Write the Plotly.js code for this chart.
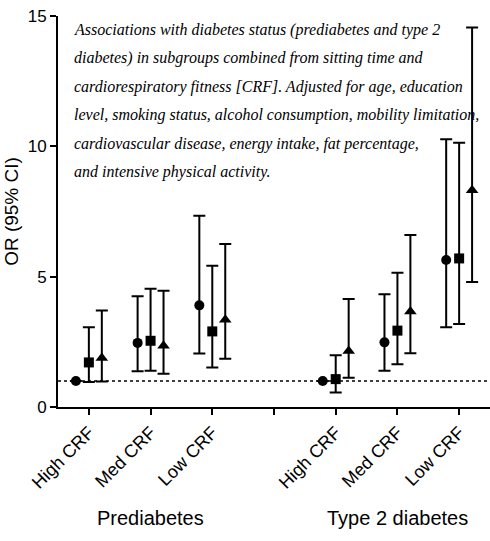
<!DOCTYPE html>
<html>
<head>
<meta charset="utf-8">
<script src="https://cdn.plot.ly/plotly-3.0.1.min.js"></script>
<style>html,body{margin:0;padding:0;background:#fff}#chart{width:490px;height:541px}</style>
</head>
<body>
<div id="chart"></div>
<script>
// ---- data ----
const categories = ['High CRF', 'Med CRF', 'Low CRF'];
const groups = ['Prediabetes', 'Type 2 diabetes'];
// order: Prediabetes High/Med/Low, Type 2 diabetes High/Med/Low
const circleOR = [1.00, 2.46, 3.90, 1.00, 2.48, 5.64];
const circleLo = [null, 1.37, 2.05, null, 1.39, 3.06];
const circleHi = [null, 4.25, 7.34, null, 4.33, 10.27];
const squareOR = [1.71, 2.54, 2.90, 1.07, 2.93, 5.70];
const squareLo = [0.96, 1.39, 1.52, 0.56, 1.64, 3.18];
const squareHi = [3.06, 4.54, 5.42, 1.99, 5.15, 10.14];
const triangleOR = [1.88, 2.35, 3.35, 2.15, 3.66, 8.32];
const triangleLo = [0.98, 1.28, 1.85, 1.12, 2.06, 4.80];
const triangleHi = [3.70, 4.46, 6.25, 4.14, 6.60, 14.56];
const referenceOR = 1;
const yTicks = [0, 5, 10, 15];
const noteLines = [
  'Associations with diabetes status (prediabetes and type 2',
  'diabetes) in subgroups combined from sitting time and',
  'cardiorespiratory fitness [CRF]. Adjusted for age, education',
  'level, smoking status, alcohol consumption, mobility limitation,',
  'cardiovascular disease, energy intake, fat percentage,',
  'and intensive physical activity.'
];

// ---- positions on the category axis ----
const nCat = categories.length;
const slotPos = [];
groups.forEach((g, gi) => categories.forEach((c, ci) => slotPos.push(gi * (nCat + 1) + ci)));
const tickVals = [], tickText = [];
groups.forEach((g, gi) => {
  categories.forEach((c, ci) => { tickVals.push(gi * (nCat + 1) + ci); tickText.push(c); });
  if (gi < groups.length - 1) { tickVals.push(gi * (nCat + 1) + nCat); tickText.push(''); }
});

function mk(name, or, lo, hi, offset, symbol, size) {
  return {
    type: 'scatter', mode: 'markers', name: name,
    x: slotPos.map(p => p + offset),
    y: or,
    marker: {symbol: symbol, size: size, color: '#000'},
    error_y: {
      type: 'data', symmetric: false,
      array: or.map((v, i) => hi[i] == null ? null : hi[i] - v),
      arrayminus: or.map((v, i) => lo[i] == null ? null : v - lo[i]),
      color: '#000', thickness: 2, width: 6
    },
    showlegend: false, hoverinfo: 'y'
  };
}

const traces = [
  mk('Circle', circleOR, circleLo, circleHi, -0.21, 'circle', 10),
  mk('Square', squareOR, squareLo, squareHi, 0, 'square', 10),
  mk('Triangle', triangleOR, triangleLo, triangleHi, 0.21, 'triangle-up', 11)
];

const plotTop = 16, plotBottom = 407, plotH = plotBottom - plotTop;
const annotations = noteLines.map((t, i) => ({
  text: '<i>' + t + '</i>',
  xref: 'paper', yref: 'paper', x: (72 - 58) / 432, xanchor: 'left',
  y: (plotBottom - (30 + i * 28.4)) / plotH, yanchor: 'middle',
  showarrow: false, font: {family: 'Liberation Serif', size: 16, color: '#000'}
}));
groups.forEach((g, gi) => annotations.push({
  text: g, xref: 'x', yref: 'paper',
  x: gi * (nCat + 1) + (nCat - 1) / 2, y: (plotBottom - 518) / plotH,
  xanchor: 'center', yanchor: 'middle', showarrow: false,
  font: {family: 'Liberation Sans', size: 20, color: '#000'}
}));

const layout = {
  width: 490, height: 541,
  margin: {l: 58, r: 0, t: 16, b: 134},
  paper_bgcolor: '#fff', plot_bgcolor: '#fff',
  font: {family: 'Liberation Sans', color: '#000'},
  xaxis: {
    range: [-0.5, slotPos[slotPos.length - 1] + 0.5],
    tickvals: tickVals, ticktext: tickText, tickangle: -45,
    ticks: 'outside', ticklen: 6, tickwidth: 2, tickcolor: '#000',
    showline: true, linewidth: 2, linecolor: '#000',
    showgrid: false, zeroline: false,
    tickfont: {size: 18, color: '#000'}
  },
  yaxis: {
    range: [0, 15], tickvals: yTicks,
    ticks: 'outside', ticklen: 6, tickwidth: 2, tickcolor: '#000',
    showline: true, linewidth: 2, linecolor: '#000',
    showgrid: false, zeroline: false,
    tickfont: {size: 17, color: '#000'},
    title: {text: 'OR (95% CI)', font: {size: 19, color: '#000'}, standoff: 4}
  },
  shapes: [{
    type: 'line', xref: 'paper', yref: 'y', x0: 0, x1: 1, y0: referenceOR, y1: referenceOR,
    line: {color: '#000', width: 1.5, dash: 'dot'}
  }],
  annotations: annotations
};

Plotly.newPlot('chart', traces, layout, {displayModeBar: false, staticPlot: true});
</script>
</body>
</html>
